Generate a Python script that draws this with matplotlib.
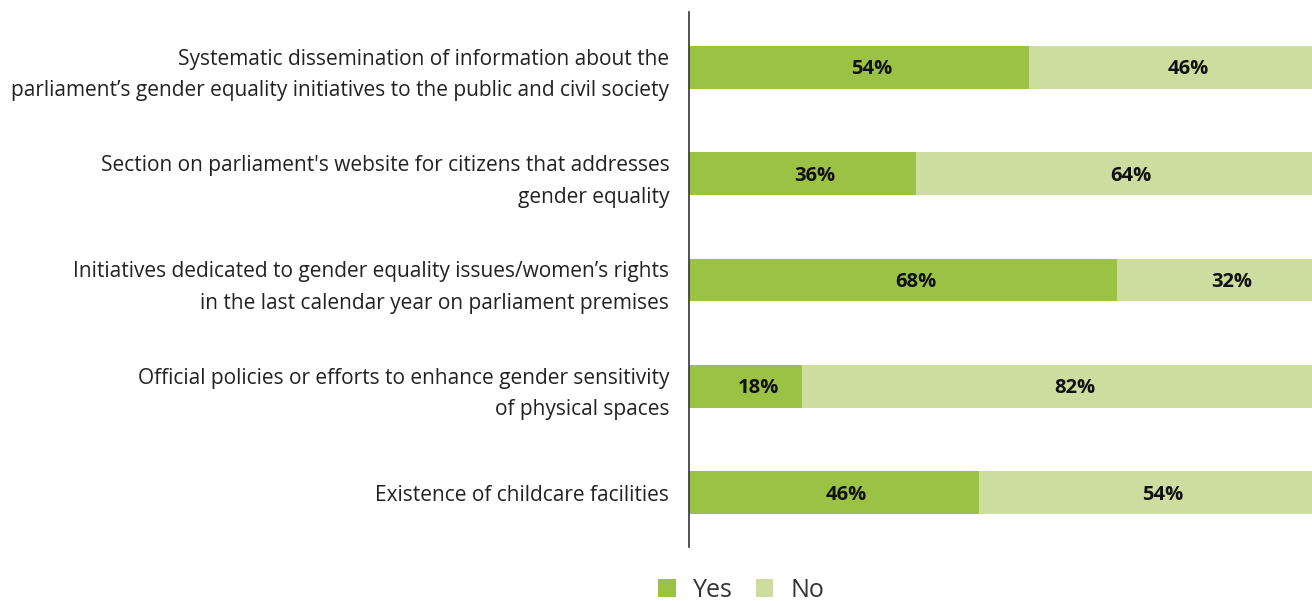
import matplotlib.pyplot as plt
import numpy as np

categories = [
    "Systematic dissemination of information about the\nparliament\u2019s gender equality initiatives to the public and civil society",
    "Section on parliament's website for citizens that addresses\ngender equality",
    "Initiatives dedicated to gender equality issues/women\u2019s rights\nin the last calendar year on parliament premises",
    "Official policies or efforts to enhance gender sensitivity\nof physical spaces",
    "Existence of childcare facilities",
]
yes_vals = [54, 36, 68, 18, 46]
no_vals = [46, 64, 32, 82, 54]

yes_color = "#9bc244"
no_color = "#cddc9f"
label_font = ["Open Sans", "DejaVu Sans"]

fig = plt.figure(figsize=(13.12, 6.01), dpi=100)
# bars run slightly past the right edge in the original
ax = fig.add_axes([0.525, 0.09, 0.4802, 0.89])

y = np.arange(len(categories))
ax.barh(y, yes_vals, height=0.4, color=yes_color, label="Yes")
ax.barh(y, no_vals, left=yes_vals, height=0.4, color=no_color, label="No")

for i in range(len(categories)):
    ax.annotate(f"{yes_vals[i]}%", (yes_vals[i] / 2, y[i]), xytext=(9, -1.5),
                textcoords="offset points", ha="center", va="center",
                fontsize=14.5, fontweight="bold", family=label_font, color="#111111")
    ax.annotate(f"{no_vals[i]}%", (yes_vals[i] + no_vals[i] / 2, y[i]), xytext=(10, -1.5),
                textcoords="offset points", ha="center", va="center",
                fontsize=14.5, fontweight="bold", family=label_font, color="#111111")

ax.set_xlim(0, 100)
ax.set_ylim(4.51, -0.52)
ax.set_yticks(y)
ax.set_yticklabels(categories, family=label_font, fontsize=15, color="#222222", linespacing=1.65)
ax.tick_params(axis="y", length=0, pad=14)
ax.set_xticks([])
for s in ["top", "right", "bottom"]:
    ax.spines[s].set_visible(False)
ax.spines["left"].set_color("#333333")
ax.spines["left"].set_linewidth(1.2)

leg = fig.legend(loc="center", bbox_to_anchor=(0.565, 0.018), ncol=2, frameon=False,
                 handlelength=0.7, handleheight=0.7, handletextpad=0.7, columnspacing=0.9,
                 prop={"family": label_font, "size": 18})
for t in leg.get_texts():
    t.set_color("#333333")

fig.savefig("out.png", dpi=100)
